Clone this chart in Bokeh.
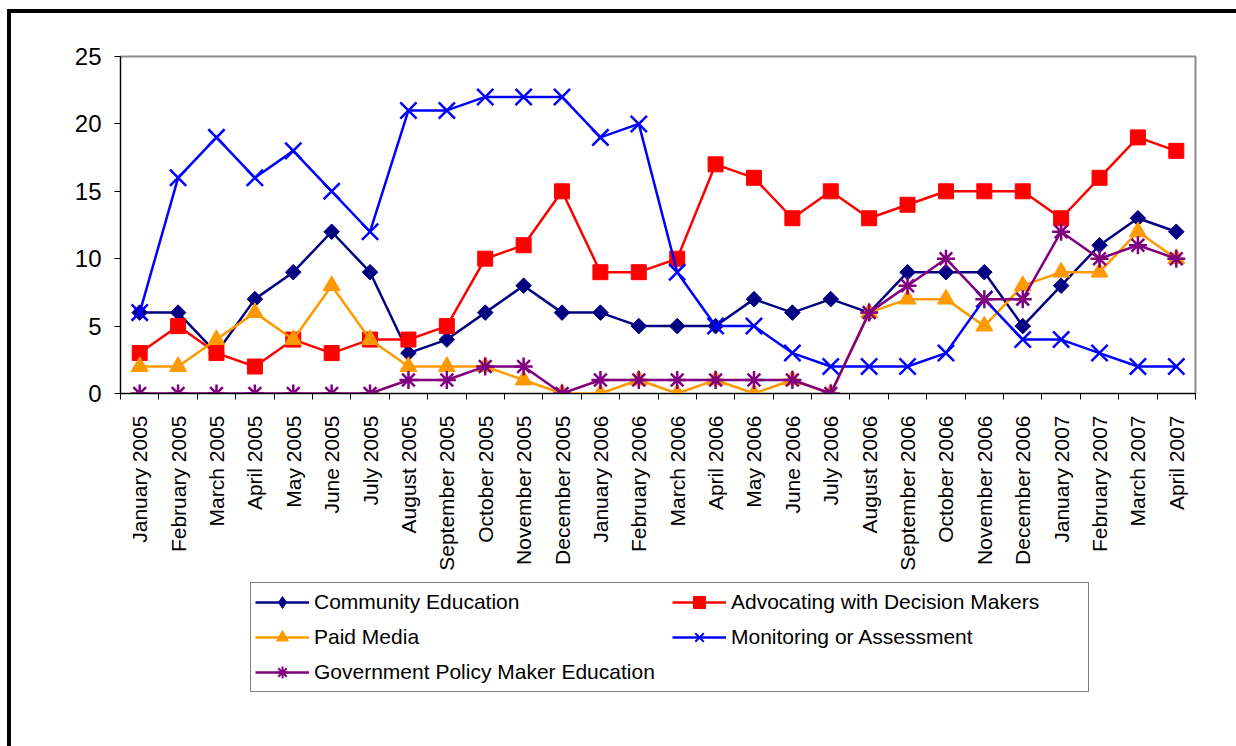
import math
from bokeh.plotting import figure
from bokeh.layouts import column
from bokeh.models import Range1d, FixedTicker, Legend, LegendItem
from bokeh.embed import file_html
from bokeh.resources import INLINE

months = [
    "January 2005", "February 2005", "March 2005", "April 2005", "May 2005",
    "June 2005", "July 2005", "August 2005", "September 2005", "October 2005",
    "November 2005", "December 2005", "January 2006", "February 2006",
    "March 2006", "April 2006", "May 2006", "June 2006", "July 2006",
    "August 2006", "September 2006", "October 2006", "November 2006",
    "December 2006", "January 2007", "February 2007", "March 2007", "April 2007",
]

community_education = [6, 6, 3, 7, 9, 12, 9, 3, 4, 6, 8, 6, 6, 5, 5, 5, 7, 6, 7,
                       6, 9, 9, 9, 5, 8, 11, 13, 12]
advocating = [3, 5, 3, 2, 4, 3, 4, 4, 5, 10, 11, 15, 9, 9, 10, 17, 16, 13, 15,
              13, 14, 15, 15, 15, 13, 16, 19, 18]
paid_media = [2, 2, 4, 6, 4, 8, 4, 2, 2, 2, 1, 0, 0, 1, 0, 1, 0, 1, 0,
              6, 7, 7, 5, 8, 9, 9, 12, 10]
monitoring = [6, 16, 19, 16, 18, 15, 12, 21, 21, 22, 22, 22, 19, 20, 9, 5, 5, 3, 2,
              2, 2, 3, 7, 4, 4, 3, 2, 2]
gov_policy = [0, 0, 0, 0, 0, 0, 0, 1, 1, 2, 2, 0, 1, 1, 1, 1, 1, 1, 0,
              6, 8, 10, 7, 7, 12, 10, 11, 10]

y_ticks = [0, 5, 10, 15, 20, 25]

FONT = "Liberation Sans"
NAN = float("nan")

# each month occupies one unit slot; points sit in the middle of the slot
xs = [i + 0.5 for i in range(len(months))]

p = figure(width=1225, height=562, output_backend="svg", toolbar_location=None,
           x_range=Range1d(0, len(months)), y_range=Range1d(0, 25),
           min_border_left=109, min_border_right=41, min_border_top=43,
           min_border_bottom=182)

p.background_fill_color = "white"
p.border_fill_color = "white"
p.outline_line_color = "#8c8c8c"
p.outline_line_width = 2
p.xgrid.visible = False
p.ygrid.visible = False

# x axis: labels at slot centres, tick marks at slot boundaries
p.xaxis.ticker = FixedTicker(ticks=xs, minor_ticks=list(range(len(months) + 1)))
p.xaxis.major_label_overrides = {x: m for x, m in zip(xs, months)}
p.xaxis.major_label_orientation = math.pi / 2
p.xaxis.major_tick_out = 0
p.xaxis.major_tick_in = 0
p.xaxis.minor_tick_out = 6
p.xaxis.minor_tick_in = 0
p.xaxis.minor_tick_line_color = "black"
p.xaxis.axis_line_color = "black"
p.xaxis.major_label_text_font = FONT
p.xaxis.major_label_text_font_size = "21px"
p.xaxis.major_label_text_color = "black"
p.xaxis.major_label_standoff = 16

p.yaxis.ticker = FixedTicker(ticks=y_ticks)
p.yaxis.major_tick_out = 6
p.yaxis.major_tick_in = 0
p.yaxis.minor_tick_line_color = None
p.yaxis.axis_line_color = "black"
p.yaxis.major_tick_line_color = "black"
p.yaxis.major_label_text_font = FONT
p.yaxis.major_label_text_font_size = "24px"
p.yaxis.major_label_text_color = "black"
p.yaxis.major_label_standoff = 13

# (label, values, colour, chart marker style, key swatch marker style)
series = [
    ("Community Education", community_education, "#000080",
     dict(marker="square", size=11, angle=math.pi / 4),
     dict(marker="diamond")),
    ("Advocating with Decision Makers", advocating, "#FF0000",
     dict(marker="square", size=15), dict(marker="square")),
    ("Paid Media", paid_media, "#FF9900",
     dict(marker="triangle", size=17), dict(marker="triangle")),
    ("Monitoring or Assessment", monitoring, "#0000FF",
     dict(marker="x", size=23, line_width=2.5), dict(marker="x", line_width=2)),
    ("Government Policy Maker Education", gov_policy, "#800080",
     dict(marker="asterisk", size=18, line_width=2.5),
     dict(marker="asterisk", line_width=2)),
]

for name, vals, color, mk, _ in series:
    p.line(xs, vals, line_color=color, line_width=2.5)
    p.scatter(xs, vals, fill_color=color, line_color=color, **mk)

# key panel underneath the chart; its renderers only carry the swatch styles
key = figure(width=1225, height=171, output_backend="svg", toolbar_location=None,
             x_range=Range1d(0, 1), y_range=Range1d(0, 1),
             x_axis_type=None, y_axis_type=None,
             min_border_left=0, min_border_right=0, min_border_top=0,
             min_border_bottom=0)
key.outline_line_color = None
key.xgrid.visible = False
key.ygrid.visible = False
key.background_fill_color = "white"
key.border_fill_color = "white"

items = []
for name, vals, color, _, kmk in series:
    ln = key.line([NAN], [NAN], line_color=color, line_width=2.5)
    sc = key.scatter([NAN], [NAN], fill_color=color, line_color=color, **kmk)
    items.append(LegendItem(label=name, renderers=[ln, sc]))

legend = Legend(items=items, location=(130, 54), orientation="horizontal", ncols=2,
                label_text_font=FONT, label_text_font_size="21px",
                label_text_color="black", label_standoff=5,
                glyph_width=54, glyph_height=30, label_height=30,
                label_width=353,
                spacing=5, padding=4, margin=0,
                border_line_color="black", border_line_width=1,
                background_fill_color="white", background_fill_alpha=1)
key.add_layout(legend, "center")

page = column(p, key, spacing=0, margin=(9, 0, 0, 7),
              styles={"border-top": "4px solid black",
                      "border-left": "4px solid black"})

open("out.html", "w").write(file_html(page, INLINE))
